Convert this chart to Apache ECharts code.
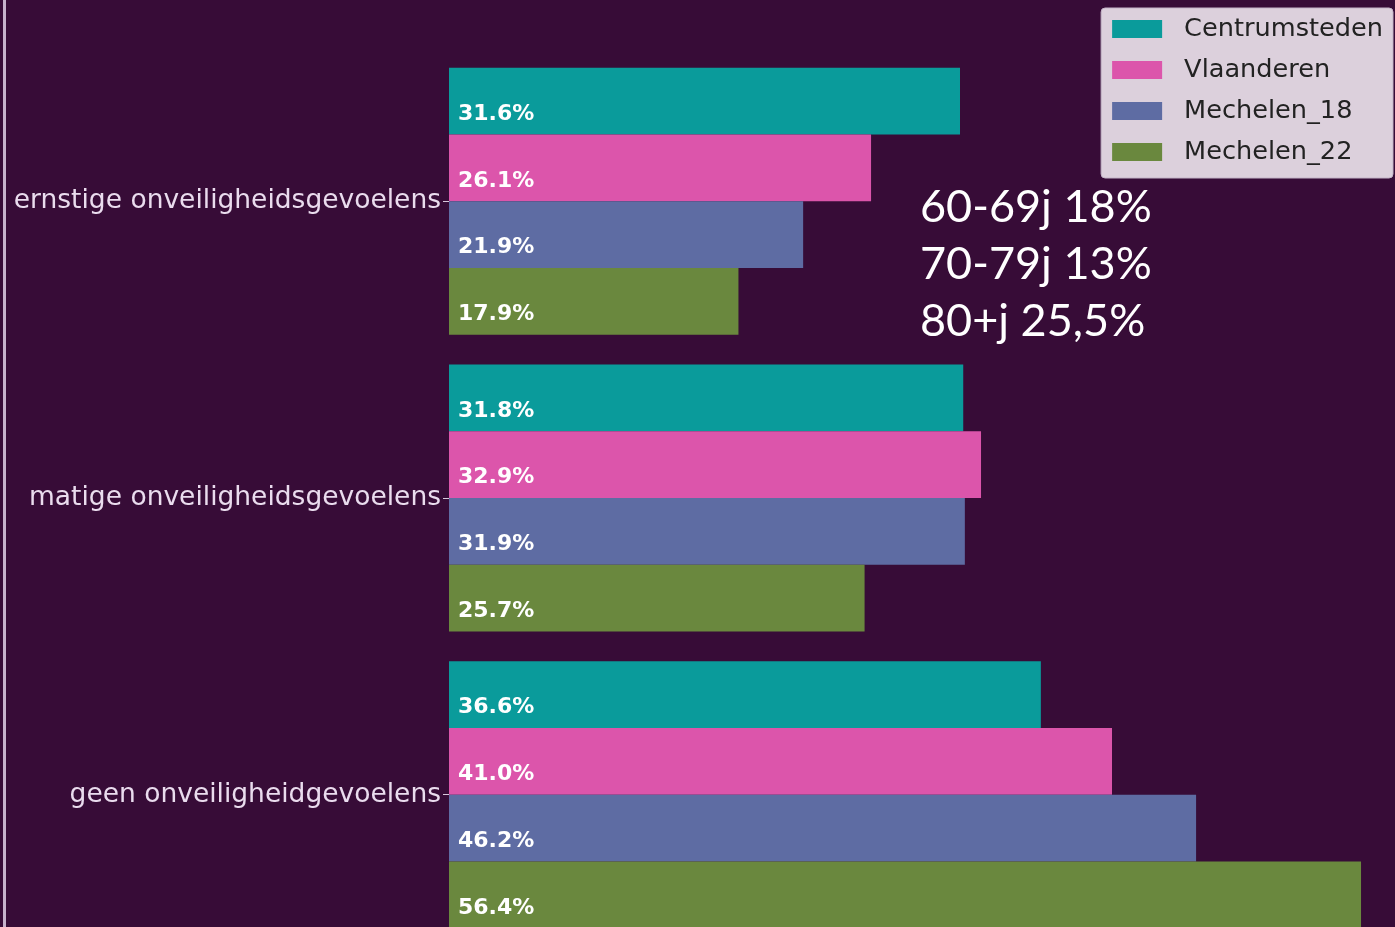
<!DOCTYPE html>
<html>
<head>
<meta charset="utf-8">
<script src="https://cdn.jsdelivr.net/npm/echarts@6/dist/echarts.min.js"></script>
<style>
  html, body { margin: 0; padding: 0; background: #370c37; overflow: hidden; }
  /* taller than the window: the plot is cut off at the bottom like the source */
  #chart { width: 1395px; height: 960px; }
</style>
</head>
<body>
<div id="chart"></div>
<script>
// categories (top to bottom)
const categories = [
  'ernstige onveiligheidsgevoelens',
  'matige onveiligheidsgevoelens',
  'geen onveiligheidgevoelens'
];
const seriesNames = ['Centrumsteden', 'Vlaanderen', 'Mechelen_18', 'Mechelen_22'];
const centrumsteden = [31.6, 31.8, 36.6];
const vlaanderen = [26.1, 32.9, 41.0];
const mechelen18 = [21.9, 31.9, 46.2];
const mechelen22 = [17.9, 25.7, 56.4];
const colors = ['#0a9b9b', '#dc55ab', '#5e6ca3', '#6a883e'];
const noteLines = ['60-69j 18%', '70-79j 13%', '80+j 25,5%'];

const allValues = [centrumsteden, vlaanderen, mechelen18, mechelen22];

const chart = echarts.init(document.getElementById('chart'));

const series = seriesNames.map((name, i) => ({
  name: name,
  type: 'bar',
  data: allValues[i],
  barGap: '0%',
  barCategoryGap: '10%',
  itemStyle: { color: colors[i] },
  label: {
    show: true,
    position: 'insideLeft',
    distance: 9,
    offset: [0, 13],
    color: '#ffffff',
    fontFamily: 'DejaVu Sans',
    fontWeight: 'bold',
    fontSize: 22,
    formatter: p => p.value.toFixed(1) + '%'
  }
}));

chart.setOption({
  backgroundColor: '#370c37',
  animation: false,
  grid: { left: 449, right: 0, top: 53, bottom: 17, containLabel: false },
  xAxis: {
    type: 'value',
    min: 0,
    max: 58.5,
    show: false
  },
  yAxis: {
    type: 'category',
    data: categories,
    inverse: true,
    axisLine: { show: false },
    axisTick: { show: true, alignWithLabel: true, length: 6, lineStyle: { color: '#d8c8dc' } },
    axisLabel: {
      color: '#eadcee',
      fontFamily: 'DejaVu Sans',
      fontSize: 26.5,
      margin: 8,
      padding: [6, 0, 0, 0]
    }
  },
  legend: {
    orient: 'vertical',
    right: 2,
    top: 8,
    data: seriesNames,
    backgroundColor: '#dcd0dc',
    borderColor: '#c4b4c8',
    borderWidth: 1,
    borderRadius: 4,
    padding: [8, 10, 13, 11],
    itemWidth: 50,
    itemHeight: 18,
    itemGap: 15,
    icon: 'rect',
    textStyle: {
      color: '#222222',
      fontFamily: 'DejaVu Sans',
      fontSize: 25.6,
      padding: [0, 0, 0, 17]
    }
  },
  graphic: [
    { type: 'rect', left: 3, top: 0, shape: { width: 3, height: 960 }, style: { fill: '#c6b2cc' } },
    {
      type: 'text', left: 920, top: 179,
      style: {
        text: noteLines.join('\n'),
        fill: '#ffffff',
        font: '45px Lato',
        lineHeight: 57
      }
    }
  ],
  series: series
});
</script>
</body>
</html>
